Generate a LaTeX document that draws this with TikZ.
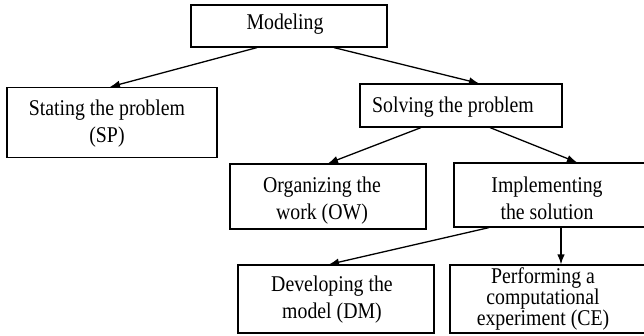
\documentclass[tikz,border=0pt]{standalone}
\usepackage{fontspec}
\setmainfont[FakeStretch=0.88]{Liberation Serif}
\usetikzlibrary{arrows.meta}
\begin{document}
\begin{tikzpicture}[x=1pt,y=-1pt,
  box/.style={draw, line width=1.2pt, inner sep=0pt},
  boxtext/.style={font=\fontsize{22.5}{27}\selectfont, align=center, inner sep=0pt},
  conn/.style={line width=1.3pt, -{Latex[length=10pt,width=7.5pt]}}]
\useasboundingbox (0,0) rectangle (644,336);
\clip (0,0) rectangle (644,336);

% boxes
\node[box, minimum width=196pt, minimum height=42pt] (modeling) at (289,26) {};
\node[box, minimum width=210pt, minimum height=70pt] (stating)  at (112,122.5) {};
\node[box, minimum width=202pt, minimum height=43pt] (solving)  at (461,105.5) {};
\node[box, minimum width=196pt, minimum height=65pt] (organizing) at (328,196.5) {};
\node[box, minimum width=196pt, minimum height=64pt] (implementing) at (552,195) {};
\node[box, minimum width=196pt, minimum height=68pt] (developing) at (336,299) {};
\node[box, minimum width=200pt, minimum height=68pt] (performing) at (550,299) {};

% texts
\node[boxtext] (tmodeling) at (285,24) {Modeling};
\node[boxtext] (tstating) at (107,124) {Stating the problem\\(SP)};
\node[boxtext] (tsolving) at (453,107) {Solving the problem};
\node[boxtext] (torganizing) at (322,201) {Organizing the\\work (OW)};
\node[boxtext] (timplementing) at (547,198) {Implementing\\the solution};
\node[boxtext] (tdeveloping) at (332,300) {Developing the\\model (DM)};
\node[boxtext, font=\fontsize{22.5}{21}\selectfont] (tperforming) at (543,299)
  {Performing a\\computational\\experiment (CE)};

% connectors
\draw[conn] ([xshift=-32pt]modeling.south) -- ([xshift=-2pt]stating.north);
\draw[conn] ([xshift=45pt]modeling.south) -- ([xshift=18pt]solving.north);
\draw[conn] ([xshift=-40pt]solving.south) -- (organizing.north);
\draw[conn] ([xshift=29pt]solving.south) -- ([xshift=25pt]implementing.north);
\draw[conn] ([xshift=-63pt]implementing.south) -- ([xshift=-7pt]developing.north);
\draw[conn] ([xshift=9pt]implementing.south) -- ([xshift=9pt]implementing.south |- performing.north);
\end{tikzpicture}
\end{document}
